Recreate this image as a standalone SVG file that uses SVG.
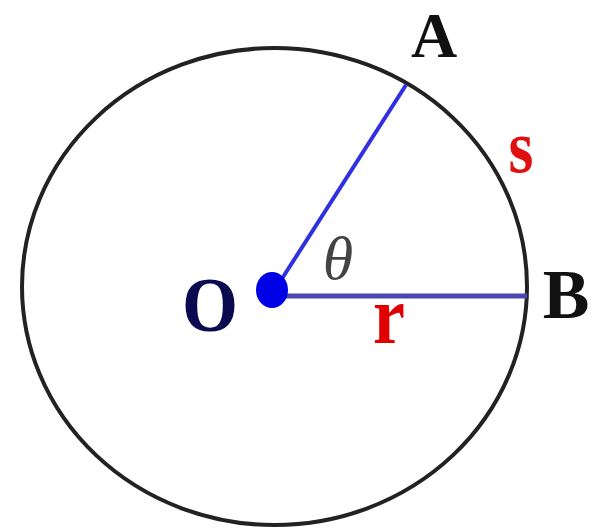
<svg xmlns="http://www.w3.org/2000/svg" width="596" height="530" viewBox="0 0 596 530">
<style>
.lbl{font-family:"Liberation Serif","Times New Roman",serif;font-weight:bold;text-anchor:middle}
</style>
<rect width="596" height="530" fill="#fff"/>
<g id="circle"><ellipse cx="274.5" cy="286.5" rx="252.5" ry="238.5" fill="none" stroke="#222" stroke-width="4"/></g>
<g id="connectors">
<line x1="276" y1="288" x2="406" y2="85" stroke="#3030e0" stroke-width="4"/>
<line x1="276" y1="296" x2="527" y2="296" stroke="#4848b0" stroke-width="5"/>
</g>
<g id="O"><ellipse cx="272" cy="290" rx="16" ry="18" fill="#0000e6"/><text class="lbl" font-size="72" fill="#0a0a50" transform="translate(210,331) scale(1,1.08)">O</text></g>
<g id="A"><text class="lbl" font-size="64" fill="#111" x="434" y="57">A</text></g>
<g id="B"><text class="lbl" font-size="70" fill="#111" x="566" y="318">B</text></g>
<g id="labels">
<text class="lbl" font-size="64" fill="#e01010" transform="translate(521,172) scale(1,1.2)">s</text>
<text class="lbl" font-size="72" fill="#e00000" transform="translate(389,343) scale(1,1.15)">r</text>
<text x="338" y="279" font-size="62" font-style="italic" fill="#444" text-anchor="middle" font-family="'Liberation Serif','Times New Roman',serif">θ</text>
</g>
</svg>
